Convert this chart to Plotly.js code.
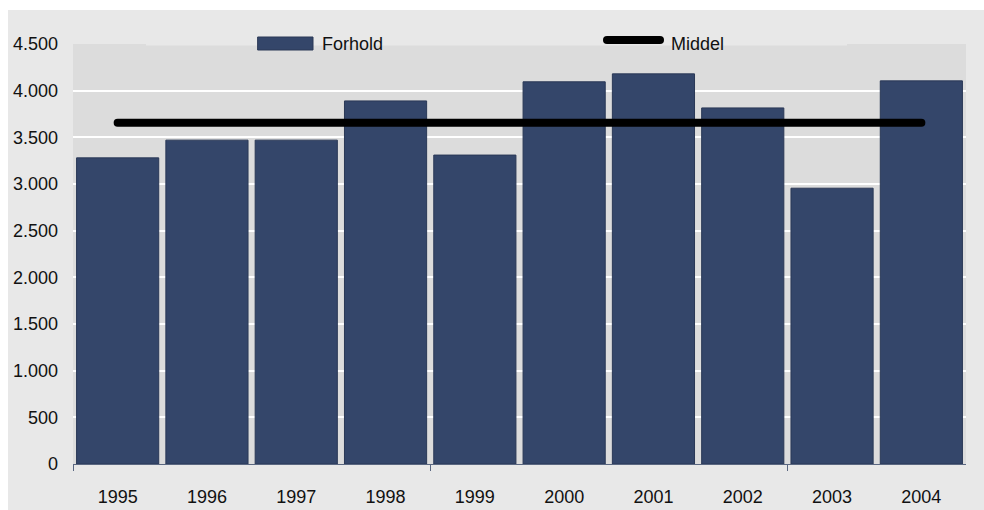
<!DOCTYPE html>
<html>
<head>
<meta charset="utf-8">
<script src="https://cdn.plot.ly/plotly-3.0.1.min.js"></script>
<style>
html, body { margin: 0; padding: 0; background: #ffffff; }
#chart { position: absolute; left: 8px; top: 10px; width: 976px; height: 500px; }
.scatterlayer path.js-line { stroke-linecap: round; }
.shapelayer path { stroke-linecap: round; }
</style>
</head>
<body>
<div id="chart"></div>
<script>
// Data
const years = [1995, 1996, 1997, 1998, 1999, 2000, 2001, 2002, 2003, 2004];
const forhold = [3280, 3470, 3470, 3890, 3310, 4095, 4180, 3815, 2955, 4105];
const middel = [3657, 3657, 3657, 3657, 3657, 3657, 3657, 3657, 3657, 3657];
const yTicks = [0, 500, 1000, 1500, 2000, 2500, 3000, 3500, 4000, 4500];
const seriesNames = ['Forhold', 'Middel'];

const barColor = '#34466a';
const fontFam = '"Liberation Sans", Arial, sans-serif';

// plot-area pixel helpers for the hand-placed legend
const L = 65, W = 893, T = 34, H = 420;
const fx = px => (px - 8 - L) / W;          // page x -> paper fraction
const fy = py => (T + H - (py - 10)) / H;   // page y -> paper fraction

const traces = [
  {
    type: 'bar', name: seriesNames[0], x: years, y: forhold,
    marker: { color: barColor, line: { color: '#2a3856', width: 1 } },
    showlegend: false, hoverinfo: 'skip'
  },
  {
    type: 'scatter', mode: 'lines', name: seriesNames[1], x: years, y: middel,
    line: { color: '#000000', width: 8 },
    showlegend: false, hoverinfo: 'skip'
  }
];

const layout = {
  width: 976, height: 500,
  margin: { l: L, r: 18, t: T, b: 46, pad: 0 },
  paper_bgcolor: '#e8e8e8',
  plot_bgcolor: '#dcdcdc',
  separators: ',.',
  font: { family: fontFam, size: 18, color: '#111111' },
  bargap: 0.08,
  xaxis: {
    range: [years[0] - 0.5, years[years.length - 1] + 0.5],
    tickmode: 'array', tickvals: years, ticktext: years.map(String),
    ticks: '', showgrid: false, zeroline: false,
    showline: true, linecolor: '#5a6781', linewidth: 1,
    ticklabelstandoff: 16,
    minor: {
      tickmode: 'array',
      tickvals: [years[0] - 0.5, years[4] - 0.5, years[8] - 0.5],
      ticks: 'outside', ticklen: 6, tickcolor: '#5a6781', tickwidth: 1, showgrid: false
    },
    fixedrange: true
  },
  yaxis: {
    range: [0, 4500],
    tickmode: 'array', tickvals: yTicks, tickformat: ',d',
    ticks: '', showgrid: true, gridcolor: '#ffffff', gridwidth: 2,
    zeroline: false, showline: false,
    ticklabelstandoff: 14,
    fixedrange: true
  },
  shapes: [
    // legend background box hiding the top gridline
    { type: 'rect', xref: 'paper', yref: 'paper', layer: 'above',
      x0: fx(146), x1: fx(847), y0: fy(45.5), y1: fy(28),
      fillcolor: '#e8e8e8', line: { width: 0 } },
    // Forhold swatch
    { type: 'rect', xref: 'paper', yref: 'paper', layer: 'above',
      x0: fx(258), x1: fx(313), y0: fy(50), y1: fy(37),
      fillcolor: barColor, line: { color: '#2a3856', width: 1 } },
    // Middel swatch
    { type: 'line', xref: 'paper', yref: 'paper', layer: 'above',
      x0: fx(607), x1: fx(660), y0: fy(40), y1: fy(40),
      line: { color: '#000000', width: 8 } }
  ],
  annotations: [
    { text: seriesNames[0], xref: 'paper', yref: 'paper', x: fx(321), y: fy(44),
      xanchor: 'left', yanchor: 'middle', showarrow: false, borderpad: 0,
      font: { family: fontFam, size: 18, color: '#111111' } },
    { text: seriesNames[1], xref: 'paper', yref: 'paper', x: fx(670), y: fy(44),
      xanchor: 'left', yanchor: 'middle', showarrow: false, borderpad: 0,
      font: { family: fontFam, size: 18, color: '#111111' } }
  ]
};

Plotly.newPlot('chart', traces, layout, { displayModeBar: false, staticPlot: true });
</script>
</body>
</html>
